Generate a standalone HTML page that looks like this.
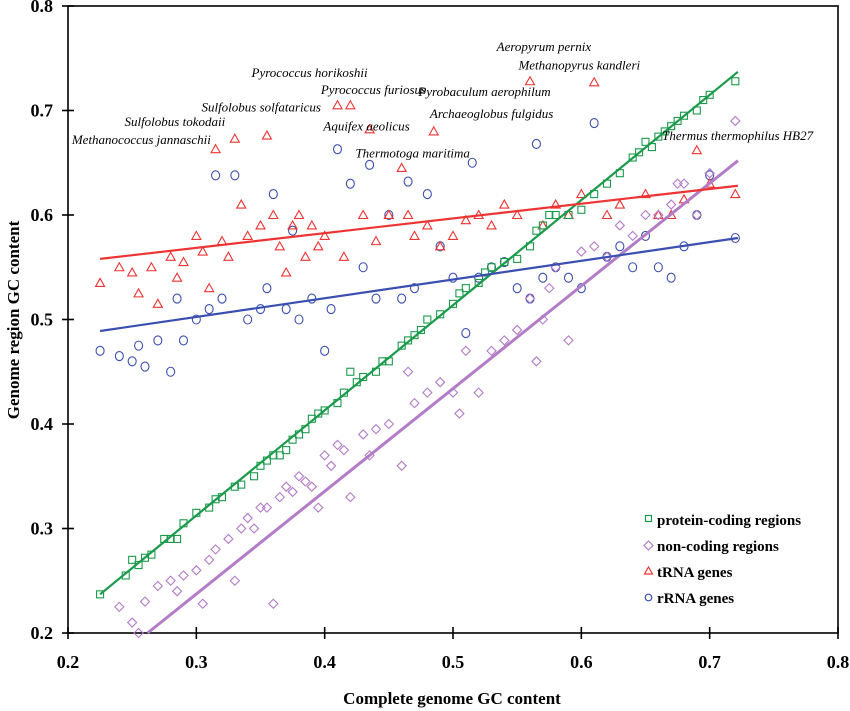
<!DOCTYPE html>
<html><head><meta charset="utf-8"><style>
body{margin:0;background:#fff;}
svg{display:block;font-family:"Liberation Serif",serif;}
</style></head><body>
<svg id="chart" width="850" height="711" viewBox="0 0 850 711" xmlns="http://www.w3.org/2000/svg">
<rect x="68" y="6" width="770" height="627" fill="none" stroke="#000" stroke-width="1.6"/>
<g id="ticks"></g>
<g id="marks"></g>
<g id="labels" font-style="italic" font-size="13" fill="#000"></g>
<text x="452" y="704" font-size="17" font-weight="bold" text-anchor="middle">Complete genome GC content</text>
<text transform="translate(19,320) rotate(-90)" font-size="17" font-weight="bold" text-anchor="middle">Genome region GC content</text>
<g font-size="15" font-weight="bold">
<rect x="645.5" y="515.5" width="6" height="6" fill="none" stroke="#1a9a4a" stroke-width="1.2"/>
<text x="657" y="525">protein-coding regions</text>
<path d="M648.5 541 L653 545.5 L648.5 550 L644 545.5Z" fill="none" stroke="#b27cc6" stroke-width="1.2"/>
<text x="657" y="551">non-coding regions</text>
<path d="M648.5 567 L652.5 574 L644.5 574Z" fill="none" stroke="#ee3333" stroke-width="1.2"/>
<text x="657" y="577">tRNA genes</text>
<circle cx="648.5" cy="597.5" r="3.3" fill="none" stroke="#3a4fb0" stroke-width="1.2"/>
<text x="657" y="603">rRNA genes</text>
</g>
</svg>
<script>
const xTicks=[0.2,0.3,0.4,0.5,0.6,0.7,0.8];
const yTicks=[0.2,0.3,0.4,0.5,0.6,0.7,0.8];
const proteinX=[0.225,0.245,0.25,0.255,0.26,0.265,0.275,0.28,0.285,0.29,0.3,0.31,0.315,0.32,0.33,0.335,0.345,0.35,0.355,0.36,0.365,0.37,0.375,0.38,0.385,0.39,0.395,0.4,0.41,0.415,0.42,0.425,0.43,0.44,0.445,0.45,0.46,0.465,0.47,0.475,0.48,0.49,0.5,0.505,0.51,0.52,0.525,0.53,0.54,0.55,0.56,0.565,0.57,0.575,0.58,0.59,0.6,0.61,0.62,0.63,0.64,0.645,0.65,0.655,0.66,0.665,0.67,0.675,0.68,0.69,0.695,0.7,0.72];
const proteinY=[0.237,0.255,0.27,0.265,0.272,0.275,0.29,0.29,0.29,0.305,0.315,0.32,0.328,0.33,0.34,0.342,0.35,0.36,0.365,0.37,0.37,0.375,0.385,0.39,0.395,0.405,0.41,0.413,0.42,0.43,0.45,0.44,0.445,0.45,0.46,0.46,0.475,0.48,0.485,0.49,0.5,0.505,0.515,0.525,0.53,0.535,0.545,0.55,0.555,0.558,0.57,0.585,0.59,0.6,0.6,0.6,0.605,0.62,0.63,0.64,0.655,0.66,0.67,0.665,0.675,0.68,0.685,0.69,0.695,0.7,0.71,0.715,0.728];
const noncodingX=[0.24,0.25,0.255,0.26,0.27,0.28,0.285,0.29,0.3,0.305,0.31,0.315,0.325,0.33,0.335,0.34,0.345,0.35,0.355,0.36,0.365,0.37,0.375,0.38,0.385,0.39,0.395,0.4,0.405,0.41,0.415,0.42,0.43,0.435,0.44,0.45,0.46,0.465,0.47,0.48,0.49,0.5,0.505,0.51,0.52,0.53,0.54,0.55,0.56,0.565,0.57,0.575,0.58,0.59,0.6,0.61,0.62,0.63,0.64,0.65,0.66,0.67,0.675,0.68,0.69,0.7,0.72];
const noncodingY=[0.225,0.21,0.2,0.23,0.245,0.25,0.24,0.255,0.26,0.228,0.27,0.28,0.29,0.25,0.3,0.31,0.3,0.32,0.32,0.228,0.33,0.34,0.335,0.35,0.345,0.34,0.32,0.37,0.36,0.38,0.375,0.33,0.39,0.37,0.395,0.4,0.36,0.45,0.42,0.43,0.44,0.43,0.41,0.47,0.43,0.47,0.48,0.49,0.52,0.46,0.5,0.53,0.55,0.48,0.565,0.57,0.56,0.59,0.58,0.6,0.6,0.61,0.63,0.63,0.6,0.64,0.69];
const trnaX=[0.225,0.24,0.25,0.255,0.265,0.27,0.28,0.285,0.29,0.3,0.305,0.31,0.315,0.32,0.325,0.33,0.335,0.34,0.35,0.355,0.36,0.365,0.37,0.375,0.38,0.385,0.39,0.395,0.4,0.41,0.415,0.42,0.43,0.435,0.44,0.45,0.46,0.465,0.47,0.48,0.485,0.49,0.5,0.51,0.52,0.53,0.54,0.55,0.56,0.57,0.58,0.59,0.6,0.61,0.62,0.63,0.65,0.66,0.67,0.68,0.69,0.7,0.72];
const trnaY=[0.535,0.55,0.545,0.525,0.55,0.515,0.56,0.54,0.555,0.58,0.565,0.53,0.663,0.575,0.56,0.673,0.61,0.58,0.59,0.676,0.6,0.57,0.545,0.59,0.6,0.56,0.59,0.57,0.58,0.705,0.56,0.705,0.6,0.682,0.575,0.6,0.645,0.6,0.58,0.59,0.68,0.57,0.58,0.595,0.6,0.59,0.61,0.6,0.728,0.59,0.61,0.6,0.62,0.727,0.6,0.61,0.62,0.6,0.6,0.615,0.662,0.63,0.62];
const rrnaX=[0.225,0.24,0.25,0.255,0.26,0.27,0.28,0.285,0.29,0.3,0.31,0.315,0.32,0.33,0.34,0.35,0.355,0.36,0.37,0.375,0.38,0.39,0.4,0.405,0.41,0.42,0.43,0.435,0.44,0.45,0.46,0.465,0.47,0.48,0.49,0.5,0.51,0.515,0.52,0.53,0.54,0.55,0.56,0.565,0.57,0.58,0.59,0.6,0.61,0.62,0.63,0.64,0.65,0.66,0.67,0.68,0.69,0.7,0.72];
const rrnaY=[0.47,0.465,0.46,0.475,0.455,0.48,0.45,0.52,0.48,0.5,0.51,0.638,0.52,0.638,0.5,0.51,0.53,0.62,0.51,0.585,0.5,0.52,0.47,0.51,0.663,0.63,0.55,0.648,0.52,0.6,0.52,0.632,0.53,0.62,0.57,0.54,0.487,0.65,0.54,0.55,0.555,0.53,0.52,0.668,0.54,0.55,0.54,0.53,0.688,0.56,0.57,0.55,0.58,0.55,0.54,0.57,0.6,0.638,0.578];
const labelNames=["Aeropyrum pernix","Methanopyrus kandleri","Pyrococcus horikoshii","Pyrococcus furiosus","Pyrobaculum aerophilum","Sulfolobus solfataricus","Archaeoglobus fulgidus","Sulfolobus tokodaii","Aquifex aeolicus","Methanococcus jannaschii","Thermus thermophilus HB27","Thermotoga maritima"];
const labelX=[0.534,0.551,0.343,0.397,0.473,0.304,0.482,0.244,0.399,0.203,0.663,0.424];
const labelY=[0.757,0.739,0.732,0.716,0.714,0.699,0.693,0.685,0.681,0.668,0.672,0.655];
const fitLines=[[0.225,0.722,0.237,0.737,'#1a9a4a',2.2,'protein'],[0.262,0.722,0.2,0.652,'#b27cc6',3,'noncoding'],[0.225,0.722,0.558,0.628,'#ee3333',2.2,'trna'],[0.225,0.722,0.489,0.578,'#3a4fb0',2.2,'rrna']];

const NS='http://www.w3.org/2000/svg';
const sx=v=>68+(v-0.2)/0.6*770;
const sy=v=>633-(v-0.2)/0.6*627;
function mk(tag,attrs,parent){const e=document.createElementNS(NS,tag);for(const k in attrs)e.setAttribute(k,attrs[k]);parent.appendChild(e);return e;}
const T=document.getElementById('ticks'),M=document.getElementById('marks'),L=document.getElementById('labels');
xTicks.forEach(t=>{
 const l=mk('line',{x1:sx(t),x2:sx(t),y1:627,y2:639,stroke:'#000','stroke-width':1.6},T);
 
 
 const tx=mk('text',{x:sx(t),y:668,'text-anchor':'middle','font-size':18,'font-weight':'bold'},T);
 tx.textContent=t.toFixed(1);
 
 
});
yTicks.forEach(t=>{
 const l=mk('line',{x1:62,x2:74,y1:sy(t),y2:sy(t),stroke:'#000','stroke-width':1.6},T);
 
 
 const tx=mk('text',{x:53,y:sy(t)+6,'text-anchor':'end','font-size':18,'font-weight':'bold'},T);
 tx.textContent=t.toFixed(1);
 
 
});
function drawSeries(xs,ys,shape,color,name){
 xs.forEach((x,i)=>{
  const cx=sx(x),cy=sy(ys[i]);let e;
  if(shape==='sq')e=mk('rect',{x:cx-3.5,y:cy-3.5,width:7,height:7},M);
  else if(shape==='di')e=mk('path',{d:`M${cx} ${cy-4.5}L${cx+4.5} ${cy}L${cx} ${cy+4.5}L${cx-4.5} ${cy}Z`},M);
  else if(shape==='tr')e=mk('path',{d:`M${cx} ${cy-4.5}L${cx+4.5} ${cy+3.5}L${cx-4.5} ${cy+3.5}Z`},M);
  else e=mk('ellipse',{cx:cx,cy:cy,rx:4,ry:4.5},M);
  e.setAttribute('fill','none');e.setAttribute('stroke',color);e.setAttribute('stroke-width','1.1');
  
  
 });
}
drawSeries(rrnaX,rrnaY,'ci','#3a4fb0','rrna-point');
drawSeries(trnaX,trnaY,'tr','#ee3333','trna-point');
drawSeries(noncodingX,noncodingY,'di','#b27cc6','noncoding-point');
drawSeries(proteinX,proteinY,'sq','#1a9a4a','protein-point');
fitLines.forEach(f=>{
 const l=mk('line',{x1:sx(f[0]),x2:sx(f[1]),y1:sy(f[2]),y2:sy(f[3]),stroke:f[4],'stroke-width':f[5]},M);
 
 
});
labelNames.forEach((n,i)=>{
 const t=mk('text',{x:sx(labelX[i]),y:sy(labelY[i])},L);
 t.textContent=n;
 
 
});
</script>
</body></html>
